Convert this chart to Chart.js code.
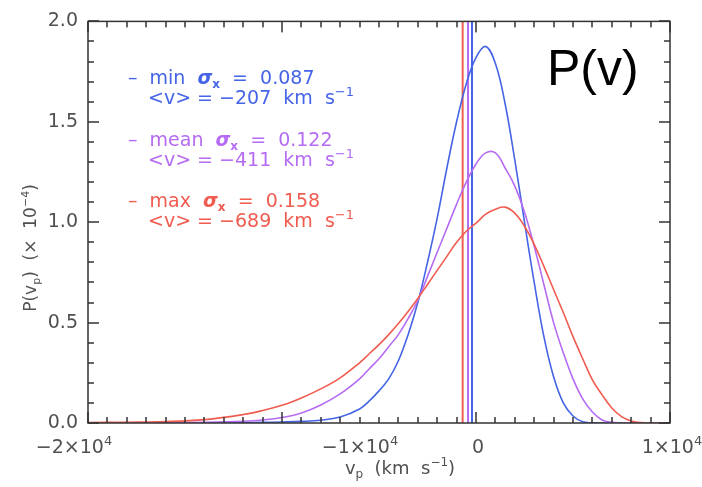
<!DOCTYPE html>
<html>
<head>
<meta charset="utf-8">
<title>P(v)</title>
<script src="https://cdn.jsdelivr.net/npm/chart.js@4.4.1/dist/chart.umd.min.js"></script>
<style>
  html, body { margin: 0; padding: 0; background: #fff; }
  #wrap { width: 702px; height: 487px; }
</style>
</head>
<body>
<div id="wrap"><canvas id="pv" width="702" height="487"></canvas></div>
<script>
// Velocity grid in km/s
const velocity = [
  -20000, -18000, -16000, -14000, -12000, -11000, -10000, -9000, -8000, -7000,
  -6000, -5500, -5000, -4500, -4000, -3500, -3000, -2500, -2000, -1500,
  -1000, -500, 0, 500, 1000, 1500, 2000, 2500, 3000, 3500,
  4000, 4500, 5000, 5500, 6000, 6500, 7000, 7500, 8000, 8500,
  9000, 10000
];

// P(v_p) in units of 1e-4 for the three runs
const pMin = [
  0, 0, 0, 0.001, 0.002, 0.003, 0.005, 0.008, 0.014, 0.03,
  0.07, 0.11, 0.16, 0.22, 0.31, 0.44, 0.60, 0.80, 1.02, 1.27,
  1.50, 1.69, 1.82, 1.875, 1.79, 1.59, 1.31, 1.00, 0.70, 0.43,
  0.23, 0.10, 0.035, 0.006, 0.001, 0, 0, 0, 0, 0,
  0, 0
];
const pMean = [
  0.0005, 0.001, 0.002, 0.004, 0.009, 0.015, 0.027, 0.05, 0.09, 0.145,
  0.22, 0.27, 0.32, 0.38, 0.44, 0.52, 0.61, 0.73, 0.85, 0.97,
  1.09, 1.20, 1.29, 1.345, 1.345, 1.27, 1.18, 1.05, 0.88, 0.69,
  0.50, 0.35, 0.22, 0.12, 0.055, 0.015, 0.003, 0, 0, 0,
  0, 0
];
const pMax = [
  0.002, 0.004, 0.007, 0.017, 0.042, 0.062, 0.088, 0.125, 0.17, 0.225,
  0.30, 0.345, 0.39, 0.44, 0.495, 0.555, 0.62, 0.69, 0.76, 0.83,
  0.90, 0.955, 0.995, 1.04, 1.065, 1.075, 1.045, 0.98, 0.89, 0.78,
  0.665, 0.55, 0.43, 0.32, 0.215, 0.14, 0.075, 0.032, 0.01, 0.002,
  0, 0
];

// run summary: name, sigma_x and mean velocity <v> (km/s)
const runNames = ['min', 'mean', 'max'];
const runSigma = ['0.087', '0.122', '0.158'];
const runMeanV = [-207, -411, -689];

// axis ticks
const xTickValues = [-20000, -10000, 0, 10000];
const xTickLabels = [['−2×10', '4'], ['−1×10', '4'], ['0', ''], ['1×10', '4']];
const xMinorStep = 1000;
const yTickStep = 0.5;
const yMinorStep = 0.1;

const runColors = ['#4564e6', '#b66cf2', '#f05c50'];
const FONT = 'DejaVu Sans';
const textGray = '#505050';
const axisColor = '#333';

function curve(values, color) {
  return {
    data: velocity.map((v, i) => ({ x: v, y: values[i] })),
    borderColor: color,
    borderWidth: 1.6,
    pointRadius: 0,
    tension: 0.4,
    fill: false
  };
}

// vertical marker at the mean velocity, spanning the full y range
function meanLine(v, color) {
  return {
    data: [{ x: v, y: 0 }, { x: v, y: 2 }],
    borderColor: color,
    borderWidth: 2,
    pointRadius: 0,
    tension: 0,
    fill: false
  };
}

// draw a row of text pieces (sub/superscripts get a dy offset)
function drawPieces(ctx, x, y, pieces) {
  pieces.forEach(p => {
    ctx.font = p.font;
    ctx.fillText(p.t, x, y + (p.dy || 0));
    x += ctx.measureText(p.t).width;
  });
  return x;
}

function piecesWidth(ctx, pieces) {
  let w = 0;
  pieces.forEach(p => { ctx.font = p.font; w += ctx.measureText(p.t).width; });
  return w;
}

function minusSign(n) {
  return (n < 0 ? '−' : '') + Math.abs(n);
}

const decorations = {
  id: 'decorations',
  afterDraw(chart) {
    const { ctx, chartArea: a, scales: { x, y } } = chart;
    ctx.save();

    // box frame
    ctx.strokeStyle = axisColor;
    ctx.lineWidth = 1.5;
    ctx.strokeRect(a.left, a.top, a.right - a.left, a.bottom - a.top);

    // inward ticks on all four sides
    ctx.fillStyle = axisColor;
    const nx = Math.round((x.max - x.min) / xMinorStep);
    for (let k = 0; k <= nx; k++) {
      const v = x.min + k * xMinorStep;
      const px = Math.round(x.getPixelForValue(v)) - 0.75;
      const len = xTickValues.includes(v) ? 11 : 6;
      ctx.fillRect(px, a.bottom - len, 1.5, len);
      ctx.fillRect(px, a.top, 1.5, len);
    }
    const ny = Math.round((y.max - y.min) / yMinorStep);
    for (let k = 0; k <= ny; k++) {
      const py = Math.round(y.getPixelForValue(y.min + k * yMinorStep)) - 0.75;
      const len = k % 5 === 0 ? 11 : 6;
      ctx.fillRect(a.left, py, len, 1.5);
      ctx.fillRect(a.right - len, py, len, 1.5);
    }

    // x tick labels with superscript exponent
    ctx.fillStyle = textGray;
    ctx.textBaseline = 'alphabetic';
    const xLabelShift = [-14, 78, 2, 2];
    xTickValues.forEach((v, i) => {
      const pieces = [
        { t: xTickLabels[i][0], font: '19px ' + FONT },
        { t: xTickLabels[i][1], font: '13px ' + FONT, dy: -8 }
      ];
      const w = piecesWidth(ctx, pieces);
      drawPieces(ctx, x.getPixelForValue(v) - w / 2 + xLabelShift[i], a.bottom + 30, pieces);
    });

    // x axis title
    const xTitle = [
      { t: 'v', font: '18px ' + FONT },
      { t: 'p', font: '12px ' + FONT, dy: 4 },
      { t: '  (km  s', font: '18px ' + FONT },
      { t: '−1', font: '12px ' + FONT, dy: -8 },
      { t: ')', font: '18px ' + FONT }
    ];
    drawPieces(ctx, 400 - piecesWidth(ctx, xTitle) / 2, a.bottom + 51, xTitle);

    // y axis title, rotated
    const yTitle = [
      { t: 'P(v', font: '17px ' + FONT },
      { t: 'p', font: '11px ' + FONT, dy: 4 },
      { t: ')  (×  10', font: '17px ' + FONT },
      { t: '−4', font: '11px ' + FONT, dy: -7 },
      { t: ')', font: '17px ' + FONT }
    ];
    ctx.save();
    ctx.translate(36, 248);
    ctx.rotate(-Math.PI / 2);
    drawPieces(ctx, -piecesWidth(ctx, yTitle) / 2, 0, yTitle);
    ctx.restore();

    // run legend
    runNames.forEach((name, i) => {
      const base = a.top + 63 + i * 61.5;
      ctx.fillStyle = runColors[i];
      drawPieces(ctx, a.left + 40, base, [
        { t: '–  ' + name + '  ', font: '19px ' + FONT },
        { t: 'σ', font: 'italic bold 19px ' + FONT },
        { t: 'x', font: 'bold 12px ' + FONT, dy: 4 },
        { t: '  =  ' + runSigma[i], font: '19px ' + FONT }
      ]);
      drawPieces(ctx, a.left + 60, base + 20, [
        { t: '<v> = ' + minusSign(runMeanV[i]) + '  km  s', font: '19px ' + FONT },
        { t: '−1', font: '13px ' + FONT, dy: -8 }
      ]);
    });

    // panel label
    ctx.fillStyle = '#000';
    ctx.font = '50px "Liberation Sans"';
    ctx.fillText('P(v)', 547, 85);

    ctx.restore();
  }
};

const datasets = [
  curve(pMax, runColors[2]),
  curve(pMean, runColors[1]),
  curve(pMin, runColors[0]),
  meanLine(runMeanV[2], runColors[2]),
  meanLine(runMeanV[1], runColors[1]),
  meanLine(runMeanV[0], runColors[0])
];

new Chart(document.getElementById('pv'), {
  type: 'line',
  data: { datasets: datasets },
  options: {
    responsive: false,
    animation: false,
    layout: { padding: { top: 14, right: 32, left: 0, bottom: 0 } },
    plugins: { legend: { display: false }, tooltip: { enabled: false } },
    scales: {
      x: {
        type: 'linear',
        min: -20000,
        max: 10000,
        ticks: { display: false },
        grid: { display: false, drawTicks: false },
        border: { display: false },
        afterFit: s => { s.height = 64; }
      },
      y: {
        min: 0,
        max: 2,
        ticks: {
          stepSize: yTickStep,
          padding: 10,
          color: textGray,
          font: { family: FONT, size: 19 },
          callback: v => v.toFixed(1)
        },
        grid: { display: false, drawTicks: false },
        border: { display: false },
        afterFit: s => { s.width = 88; }
      }
    }
  },
  plugins: [decorations]
});
</script>
</body>
</html>
